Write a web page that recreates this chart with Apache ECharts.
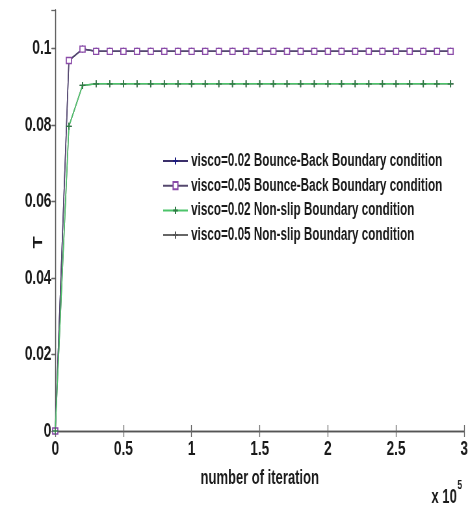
<!DOCTYPE html>
<html><head><meta charset="utf-8">
<script src="https://cdn.jsdelivr.net/npm/echarts@6/dist/echarts.min.js"></script>
<style>html,body{margin:0;padding:0;background:#fff;overflow:hidden}#c{width:723px;height:507px;transform:scaleX(0.65);transform-origin:0 0}</style>
</head><body><div id="c"></div>
<script>
var iterations = [0,10000,20000,30000,40000,50000,60000,70000,80000,90000,100000,110000,120000,130000,140000,150000,160000,170000,180000,190000,200000,210000,220000,230000,240000,250000,260000,270000,280000,290000];
var bb002 = [0,0.0968,0.0998,0.0992,0.0992,0.0992,0.0992,0.0992,0.0992,0.0992,0.0992,0.0992,0.0992,0.0992,0.0992,0.0992,0.0992,0.0992,0.0992,0.0992,0.0992,0.0992,0.0992,0.0992,0.0992,0.0992,0.0992,0.0992,0.0992,0.0992];
var bb005 = [0,0.0968,0.0998,0.0992,0.0992,0.0992,0.0992,0.0992,0.0992,0.0992,0.0992,0.0992,0.0992,0.0992,0.0992,0.0992,0.0992,0.0992,0.0992,0.0992,0.0992,0.0992,0.0992,0.0992,0.0992,0.0992,0.0992,0.0992,0.0992,0.0992];
var ns002 = [0,0.0796,0.0903,0.0907,0.0907,0.0907,0.0907,0.0907,0.0907,0.0907,0.0907,0.0907,0.0907,0.0907,0.0907,0.0907,0.0907,0.0907,0.0907,0.0907,0.0907,0.0907,0.0907,0.0907,0.0907,0.0907,0.0907,0.0907,0.0907,0.0907];
var ns005 = [0,0.0796,0.0903,0.0907,0.0907,0.0907,0.0907,0.0907,0.0907,0.0907,0.0907,0.0907,0.0907,0.0907,0.0907,0.0907,0.0907,0.0907,0.0907,0.0907,0.0907,0.0907,0.0907,0.0907,0.0907,0.0907,0.0907,0.0907,0.0907,0.0907];
var names = ['visco=0.02 Bounce-Back Boundary condition','visco=0.05 Bounce-Back Boundary condition','visco=0.02 Non-slip Boundary condition','visco=0.05 Non-slip Boundary condition'];
var yTicks = [0,0.02,0.04,0.06,0.08,0.1];
var xTicks = [0,0.5,1,1.5,2,2.5,3];

var FONT = '"Liberation Sans","Arial",sans-serif';
var plus = 'path://M5,0L5,10M0,5L10,5';
function pairs(ys){return iterations.map(function(x,i){return [x,ys[i]];});}
function ser(name, ys, color, symbol, size, z, lineColor){
  return {name:name,type:'line',data:pairs(ys),symbol:symbol,symbolSize:size,z:z,
    lineStyle:{color:lineColor||color,width:1.5},
    itemStyle:{color:'#fff',borderColor:color,borderWidth:1.5},
    emphasis:{disabled:true},animation:false};
}
var chart = echarts.init(document.getElementById('c'));
chart.setOption({
  animation:false,
  grid:{left:85,right:8,top:10,bottom:76},
  legend:{orient:'vertical',left:245,top:147,itemWidth:38,itemHeight:9,itemGap:6.7,
    data:names,textStyle:{fontFamily:FONT,fontWeight:'bold',fontSize:18,color:'#1a1a1a',lineHeight:18},
    backgroundColor:'transparent',selectedMode:false},
  xAxis:[{type:'value',min:0,max:300000,interval:50000,name:'number of iteration',nameLocation:'middle',nameGap:37,nameMoveOverlap:false,
    nameTextStyle:{fontFamily:FONT,fontWeight:'bold',fontSize:20,color:'#1a1a1a'},
    axisLine:{lineStyle:{color:'#555',width:1.3}},axisTick:{inside:true,length:6,lineStyle:{color:'#666',width:1.3}},
    splitLine:{show:false},
    axisLabel:{fontFamily:FONT,fontWeight:'bold',fontSize:21,color:'#1a1a1a',margin:8,formatter:function(v){return String(Math.round(v/1e4)/10);}}},
   {type:'value',position:'top',min:0,max:300000,interval:50000,
    axisLine:{show:true,lineStyle:{color:'#555',width:1.3}},axisTick:{inside:true,length:6,lineStyle:{color:'#666',width:1.3}},
    axisLabel:{show:false},splitLine:{show:false}}],
  yAxis:[{type:'value',min:0,max:0.11,interval:0.02,name:'T',nameLocation:'middle',nameGap:16,nameMoveOverlap:false,
    nameTextStyle:{fontFamily:FONT,fontWeight:'bold',fontSize:20,color:'#1a1a1a',padding:[0,44,0,0]},
    axisLine:{show:true,lineStyle:{color:'#555',width:1.3}},axisTick:{show:true,inside:false,length:5,lineStyle:{color:'#666',width:1.3}},
    splitLine:{show:false},
    axisLabel:{fontFamily:FONT,fontWeight:'bold',fontSize:21,color:'#1a1a1a',margin:6,showMaxLabel:false,
      formatter:function(v){return yTicks.some(function(t){return Math.abs(t-v)<1e-9;})?String(+v.toFixed(2)):'';}}},
   {type:'value',position:'right',min:0,max:0.11,interval:0.02,
    axisLine:{show:true,lineStyle:{color:'#555',width:1.3}},axisTick:{inside:true,length:6,lineStyle:{color:'#666',width:1.3}},
    axisLabel:{show:false},splitLine:{show:false}}],
  series:[
    ser(names[0],bb002,'#1c1c80',plus,[9,7],2,'#3a2f6a'),
    ser(names[1],bb005,'#8a4aa8','rect',[8,6],3,'#55486e'),
    ser(names[3],ns005,'#555555',plus,[9,7],2,'#666666'),
    ser(names[2],ns002,'#2f7a45',plus,[9,7],3,'#4cc46a')
  ],
  graphic:[{type:'text',right:12,top:479,style:{
    text:'{a|x 10}{b|5}',rich:{a:{fontFamily:FONT,fontWeight:'bold',fontSize:20,fill:'#1a1a1a',verticalAlign:'bottom',padding:[8,0,0,0]},b:{fontFamily:FONT,fontWeight:'bold',fontSize:13,fill:'#1a1a1a',verticalAlign:'top',padding:[0,0,12,1]}}}}]
});
</script></body></html>
